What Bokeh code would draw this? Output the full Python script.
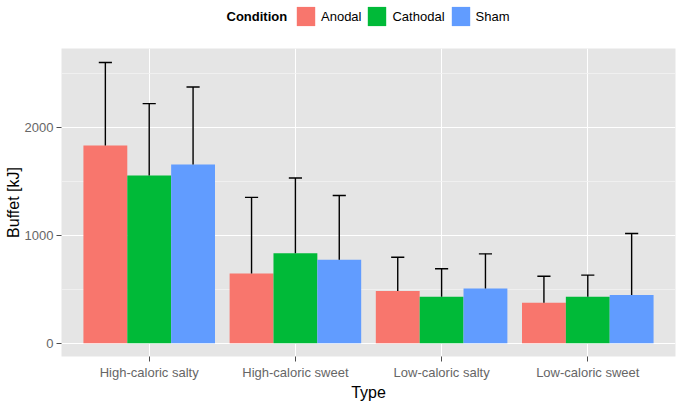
from bokeh.plotting import figure
from bokeh.layouts import column
from bokeh.models import ColumnDataSource, FactorRange, FixedTicker, Legend, LegendItem, Label
from bokeh.transform import dodge
from bokeh.embed import file_html
from bokeh.resources import INLINE

types = ["High-caloric salty", "High-caloric sweet", "Low-caloric salty", "Low-caloric sweet"]
conditions = ["Anodal", "Cathodal", "Sham"]
anodal_mean = [1831, 646, 483, 376]
anodal_upper = [2601, 1351, 797, 621]
cathodal_mean = [1554, 834, 431, 431]
cathodal_upper = [2219, 1530, 690, 631]
sham_mean = [1656, 773, 508, 446]
sham_upper = [2373, 1369, 828, 1016]
colors = ["#F8766D", "#00BA38", "#619CFF"]
y_ticks = [0, 1000, 2000]
y_minor_ticks = [500, 1500, 2500]
legend_title = "Condition"

means = [anodal_mean, cathodal_mean, sham_mean]
uppers = [anodal_upper, cathodal_upper, sham_upper]

FONT = "Liberation Sans"
W, LEG_H, MAIN_H = 680, 48, 355
FRAME_L, FRAME_R = 61, 675

# ---------------- main chart ----------------
p = figure(
    x_range=FactorRange(factors=types, range_padding=0.1, range_padding_units="absolute"),
    y_range=(-123, 2730),
    width=W, height=MAIN_H,
    output_backend="svg", toolbar_location=None,
    min_border_left=FRAME_L, min_border_right=W - FRAME_R, min_border_top=0, min_border_bottom=46,
)
p.background_fill_color = "#E5E5E5"
p.border_fill_color = "white"
p.outline_line_color = None

bar_w = 0.3
offsets = [-0.3, 0.0, 0.3]
cap_half = 0.045
for cond, m, u, c, off in zip(conditions, means, uppers, colors, offsets):
    src = ColumnDataSource(dict(x=types, top=m, upper=u))
    p.vbar(x=dodge("x", off, range=p.x_range), top="top", bottom=0, width=bar_w,
           source=src, fill_color=c, line_color=None)
for cond, m, u, off in zip(conditions, means, uppers, offsets):
    src = ColumnDataSource(dict(x=types, top=m, upper=u))
    p.segment(x0=dodge("x", off, range=p.x_range), y0="top",
              x1=dodge("x", off, range=p.x_range), y1="upper",
              source=src, line_color="black", line_width=1.4)
    p.segment(x0=dodge("x", off - cap_half, range=p.x_range), y0="upper",
              x1=dodge("x", off + cap_half, range=p.x_range), y1="upper",
              source=src, line_color="black", line_width=1.4)

p.yaxis.ticker = FixedTicker(ticks=y_ticks, minor_ticks=y_minor_ticks)
for ax in (p.xaxis[0], p.yaxis[0]):
    ax.axis_line_color = None
    ax.major_tick_line_color = "#4D4D4D"
    ax.major_tick_out = 5
    ax.major_tick_in = 0
    ax.minor_tick_line_color = None
    ax.major_label_text_font = FONT
    ax.major_label_text_font_size = "13px"
    ax.major_label_text_color = "#666666"
    ax.axis_label_text_font = FONT
    ax.axis_label_text_font_size = "16px"
    ax.axis_label_text_font_style = "normal"
    ax.axis_label_text_color = "black"
p.xaxis.axis_label = "Type"
p.yaxis.axis_label = "Buffet [kJ]"
p.xaxis.major_label_standoff = 3
p.xaxis.axis_label_standoff = 1
p.yaxis.major_label_standoff = 3
p.yaxis.axis_label_standoff = 0

p.xgrid.grid_line_color = "white"
p.xgrid.grid_line_width = 1
p.ygrid.grid_line_color = "white"
p.ygrid.grid_line_width = 1
p.ygrid.minor_grid_line_color = "#F2F2F2"
p.ygrid.minor_grid_line_width = 0.8

# ---------------- legend strip on top ----------------
# x range in page pixels over the (aligned) frame, so positions read as pixels
lg = figure(width=W, height=LEG_H, x_range=(FRAME_L, FRAME_R), y_range=(0, LEG_H),
            output_backend="svg", toolbar_location=None,
            min_border_left=FRAME_L, min_border_right=W - FRAME_R,
            min_border_top=0, min_border_bottom=0, outline_line_color=None)
lg.axis.visible = False
lg.grid.visible = False
lg.background_fill_color = "white"
lg.border_fill_color = "white"

items = []
for cond, c in zip(conditions, colors):
    # zero-size proxy renderer, only used to draw the legend key
    proxy = ColumnDataSource(dict(x=[0], top=[0]))
    r = lg.vbar(x="x", top="top", bottom=0, width=0, source=proxy,
                fill_color=c, line_color=None)
    items.append(LegendItem(label=cond, renderers=[r]))

legend = Legend(items=items, orientation="horizontal", location=(294 - FRAME_L, 20))
legend.label_text_font = FONT
legend.label_text_font_size = "13px"
legend.label_text_color = "black"
legend.glyph_width = 23
legend.glyph_height = 24
legend.label_standoff = 4
legend.spacing = 4
legend.padding = 0
legend.margin = 0
legend.border_line_color = None
legend.background_fill_alpha = 0
lg.add_layout(legend)

lg.add_layout(Label(x=226, y=32, text=legend_title,
                    text_font=FONT, text_font_size="13px", text_font_style="bold",
                    text_color="black", text_baseline="middle", text_align="left"))

layout = column(lg, p, spacing=0)
open("out.html", "w").write(file_html(layout, INLINE))
